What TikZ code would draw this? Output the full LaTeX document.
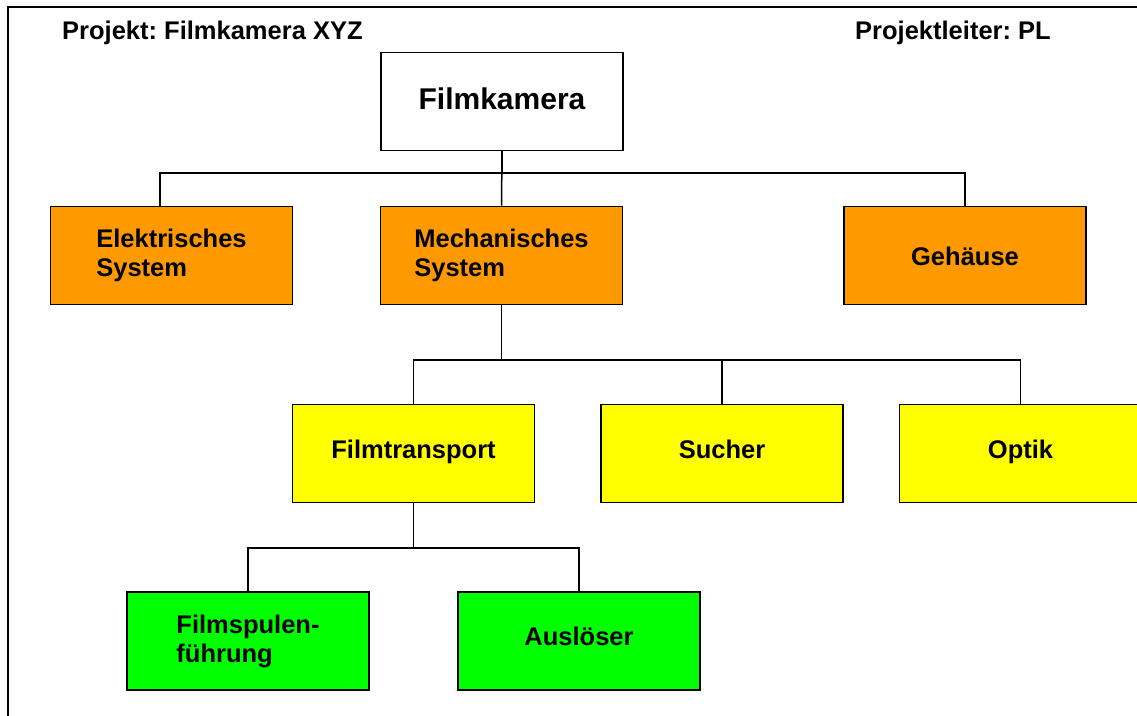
\documentclass[tikz,border=0pt]{standalone}
\usepackage{fontspec}
\setmainfont{Liberation Sans}
\frenchspacing
\definecolor{orangebox}{HTML}{FF9900}
\definecolor{yellowbox}{HTML}{FFFF00}
\definecolor{greenbox}{HTML}{00FF00}
\tikzset{
  psp/.style={draw=black, line width=1.7, minimum width=242, minimum height=98,
    inner sep=0, align=left, font=\bfseries\fontsize{25.5}{29}\selectfont},
  oneline/.style={text height=18, text depth=9},
  link/.style={line width=1.5, black},
  header/.style={anchor=base west, inner sep=0, font=\bfseries\fontsize{25.5}{29}\selectfont}
}
\begin{document}
\begin{tikzpicture}[x=1pt, y=-1pt]
    \useasboundingbox (0,0) rectangle (1137,715);
    \clip (0,0) rectangle (1137,715);
    % Rahmen und Kopfzeile
    \draw[line width=2.5] (8,7) rectangle (1160,740);
    \node[header] (proj) at (62,39) {Projekt: Filmkamera XYZ};
    \node[header] (pl) at (855,39) {Projektleiter: PL};

    % Ebene 0 und 1
    \node[psp, fill=white, font=\bfseries\fontsize{30}{34}\selectfont,
      text height=22, text depth=7] (fk) at (502,101.5) {Filmkamera};
    \node[psp, fill=orangebox] (es) at (171.5,255.5) {Elektrisches\\System};
    \node[psp, fill=orangebox] (ms) at (501.5,255.5) {Mechanisches\\System};
    \node[psp, fill=orangebox, text height=19, text depth=0] (geh) at (965,255.5) {Geh\"ause};

    % Ebene 2
    \node[psp, oneline, fill=yellowbox] (ft) at (413.5,453.5) {Filmtransport};
    \node[psp, oneline, fill=yellowbox] (su) at (722,453.5) {Sucher};
    \node[psp, oneline, fill=yellowbox] (op) at (1020.5,453.5) {Optik};

    % Ebene 3
    \node[psp, fill=greenbox] (fsf) at (248,641) {Filmspulen-\\f\"uhrung};
    \node[psp, oneline, fill=greenbox] (al) at (579,641) {Ausl\"oser};

    % Verbindungen
    \draw[link] (fk.south) -- (fk.south |- 0,173) -| ([xshift=-11.5]es.north);
    \draw[link] (fk.south) -- (ms.north);
    \draw[link] (fk.south |- 0,173) -| (geh.north);
    \draw[link] (ms.south) -- (ms.south |- 0,360) -| (ft.north);
    \draw[link] (ms.south |- 0,360) -| (su.north);
    \draw[link] (ms.south |- 0,360) -| (op.north);
    \draw[link] (ft.south) -- (ft.south |- 0,548) -| (fsf.north);
    \draw[link] (ft.south |- 0,548) -| (al.north);
\end{tikzpicture}
\end{document}
